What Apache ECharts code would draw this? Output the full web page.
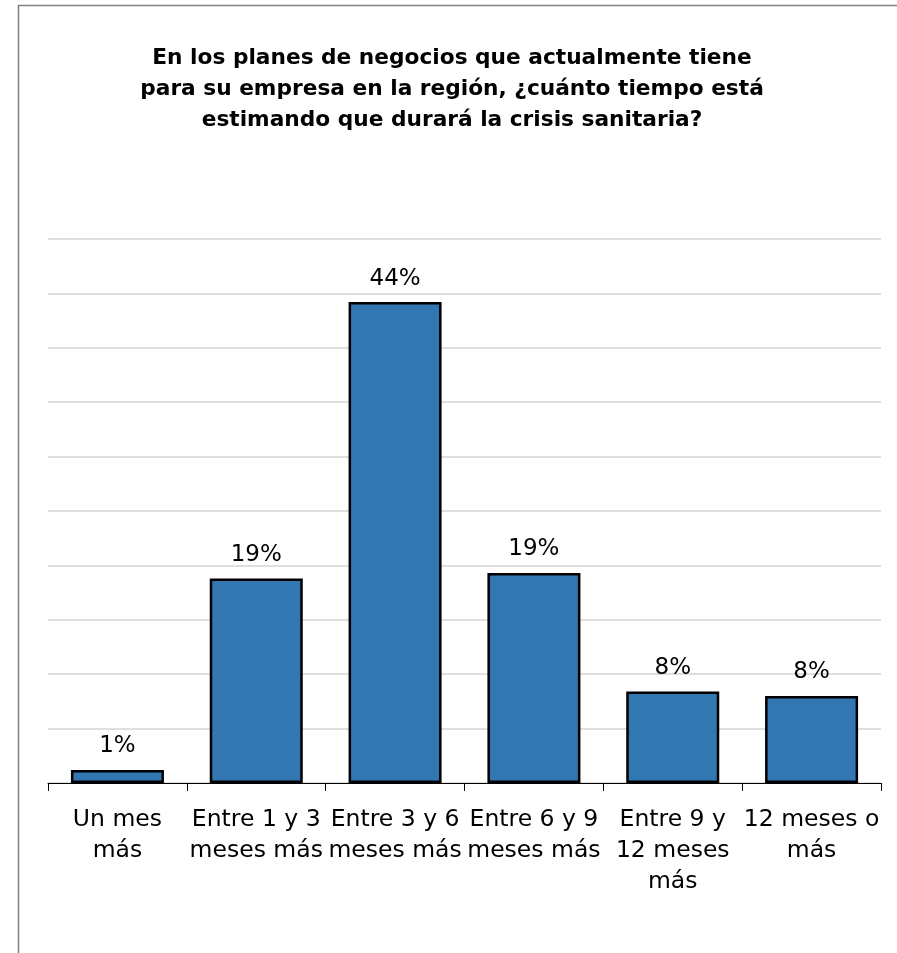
<!DOCTYPE html>
<html>
<head>
<meta charset="utf-8">
<script src="https://cdn.jsdelivr.net/npm/echarts@6/dist/echarts.min.js"></script>
<style>
html, body { margin: 0; padding: 0; background: #fff; }
#chart { width: 897px; height: 953px; }
</style>
</head>
<body>
<div id="chart"></div>
<script>
// datos
const categorias = ['Un mes\nmás', 'Entre 1 y 3\nmeses más', 'Entre 3 y 6\nmeses más', 'Entre 6 y 9\nmeses más', 'Entre 9 y\n12 meses\nmás', '12 meses o\nmás']
const porcentajes = [1.2, 18.8, 44.2, 19.3, 8.4, 8.0]
const ejeMax = 50
const ejePaso = 5

const titulo = 'En los planes de negocios que actualmente tiene\npara su empresa en la región, ¿cuánto tiempo está\nestimando que durará la crisis sanitaria?'

const chart = echarts.init(document.getElementById('chart'))
const option = {
  animation: false,
  backgroundColor: '#fff',
  textStyle: { fontFamily: 'DejaVu Sans' },
  graphic: [{
    type: 'rect',
    shape: { x: 18.5, y: 5.5, width: 1000, height: 1000 },
    style: { fill: 'none', stroke: '#808080', lineWidth: 1.5 },
    silent: true
  }],
  title: {
    text: titulo,
    left: 447,
    top: 38,
    textAlign: 'center',
    textStyle: {
      fontFamily: 'DejaVu Sans',
      fontWeight: 'bold',
      fontSize: 21.7,
      lineHeight: 31,
      color: '#000'
    }
  },
  grid: { left: 48, right: 16, top: 239, bottom: 170 },
  xAxis: {
    type: 'category',
    data: categorias,
    axisLine: { lineStyle: { color: '#000', width: 1 } },
    axisTick: { show: true, length: 8, lineStyle: { color: '#000' } },
    axisLabel: {
      interval: 0,
      margin: 21,
      fontSize: 23.5,
      lineHeight: 31,
      color: '#000',
      fontFamily: 'DejaVu Sans'
    }
  },
  yAxis: {
    type: 'value',
    min: 0,
    max: ejeMax,
    interval: ejePaso,
    axisLabel: { show: false },
    axisLine: { show: false },
    axisTick: { show: false },
    splitLine: { lineStyle: { color: '#d4d4d4', width: 1.5 } }
  },
  series: [{
    type: 'bar',
    data: porcentajes,
    barCategoryGap: '33%',
    itemStyle: { color: '#3276b2', borderColor: '#000', borderWidth: 2.5 },
    label: {
      show: true,
      position: 'top',
      distance: 12,
      fontSize: 23,
      color: '#000',
      fontFamily: 'DejaVu Sans',
      formatter: p => Math.round(p.value) + '%'
    }
  }]
}
chart.setOption(option)
</script>
</body>
</html>
